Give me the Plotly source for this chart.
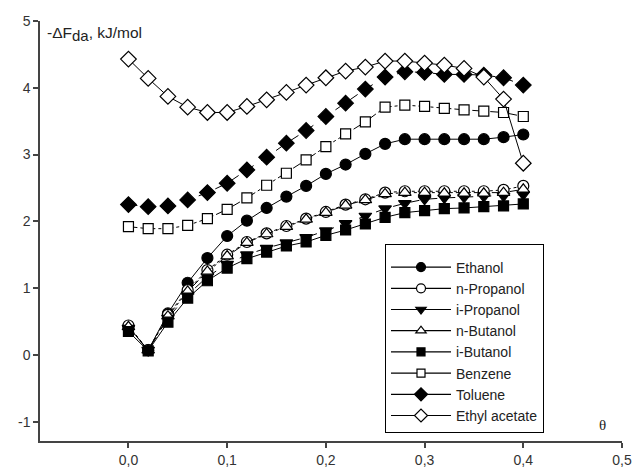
import plotly.graph_objects as go

theta = [0.00, 0.02, 0.04, 0.06, 0.08, 0.10, 0.12, 0.14, 0.16, 0.18, 0.20,
         0.22, 0.24, 0.26, 0.28, 0.30, 0.32, 0.34, 0.36, 0.38, 0.40]

ethanol = [0.42, 0.07, 0.62, 1.08, 1.45, 1.78, 2.01, 2.20, 2.37, 2.53, 2.71,
           2.85, 3.01, 3.16, 3.23, 3.23, 3.23, 3.23, 3.23, 3.26, 3.30]
n_propanol = [0.44, 0.07, 0.60, 0.97, 1.27, 1.50, 1.69, 1.82, 1.93, 2.04, 2.14,
              2.25, 2.33, 2.43, 2.45, 2.45, 2.45, 2.45, 2.45, 2.47, 2.53]
i_propanol = [0.40, 0.07, 0.55, 0.90, 1.17, 1.36, 1.50, 1.60, 1.68, 1.76, 1.86,
              1.97, 2.08, 2.19, 2.27, 2.33, 2.35, 2.36, 2.37, 2.38, 2.40]
n_butanol = [0.42, 0.07, 0.58, 0.95, 1.25, 1.48, 1.68, 1.81, 1.92, 2.03, 2.13,
             2.24, 2.32, 2.41, 2.43, 2.43, 2.42, 2.42, 2.42, 2.43, 2.48]
i_butanol = [0.35, 0.06, 0.49, 0.85, 1.11, 1.30, 1.44, 1.54, 1.63, 1.69, 1.79,
             1.87, 1.96, 2.06, 2.13, 2.16, 2.19, 2.20, 2.22, 2.23, 2.26]
benzene = [1.92, 1.89, 1.89, 1.94, 2.04, 2.18, 2.35, 2.54, 2.72, 2.92, 3.12,
           3.31, 3.49, 3.71, 3.74, 3.72, 3.69, 3.67, 3.65, 3.63, 3.57]
toluene = [2.25, 2.22, 2.23, 2.32, 2.43, 2.57, 2.77, 2.96, 3.17, 3.36, 3.57,
           3.77, 3.98, 4.16, 4.24, 4.23, 4.20, 4.20, 4.19, 4.15, 4.04]
ethyl_acetate = [4.43, 4.14, 3.87, 3.71, 3.63, 3.63, 3.72, 3.82, 3.93, 4.04, 4.15,
                 4.25, 4.31, 4.40, 4.40, 4.37, 4.34, 4.29, 4.16, 3.83, 2.87]

x_tickvals = [0.0, 0.1, 0.2, 0.3, 0.4, 0.5]
x_ticktext = ["0,0", "0,1", "0,2", "0,3", "0,4", "0,5"]
y_tickvals = [-1, 0, 1, 2, 3, 4, 5]
y_ticktext = ["-1", "0", "1", "2", "3", "4", "5"]

series = [
    ("Ethanol", ethanol, "circle", "black", "solid", 11),
    ("n-Propanol", n_propanol, "circle", "white", "dot", 11),
    ("i-Propanol", i_propanol, "triangle-down", "black", "dash", 11),
    ("n-Butanol", n_butanol, "triangle-up", "white", "dashdot", 11),
    ("i-Butanol", i_butanol, "square", "black", "solid", 10),
    ("Benzene", benzene, "square", "white", "dashdot", 10),
    ("Toluene", toluene, "diamond", "black", "dash", 12),
    ("Ethyl acetate", ethyl_acetate, "diamond", "white", "solid", 12),
]

FONT = "Liberation Sans, Arial, sans-serif"

fig = go.Figure()
for name, vals, sym, fill, dash, size in series:
    fig.add_trace(go.Scatter(
        x=theta, y=vals, name=name, mode="lines+markers", showlegend=False,
        line=dict(color="black", width=1, dash=dash),
        marker=dict(symbol=sym, size=size, color=fill,
                    line=dict(color="black", width=1.2)),
    ))
# legend entries (smaller symbols, as in the reference key)
for name, vals, sym, fill, dash, size in series:
    fig.add_trace(go.Scatter(
        x=[None], y=[None], name=name, mode="lines+markers", showlegend=True,
        line=dict(color="black", width=1.2),
        marker=dict(symbol=sym, size=size - 2, color=fill,
                    line=dict(color="black", width=1.2)),
    ))

axis_common = dict(showline=True, linecolor="#444", linewidth=1.5,
                   ticks="outside", ticklen=5, tickwidth=1.5, tickcolor="#444",
                   showgrid=False, zeroline=False, automargin=False,
                   tickfont=dict(family=FONT, size=14, color="#333"))

L, R, T, B = 40, 12, 21, 31
W, H = 634, 472
PW, PH = W - L - R, H - T - B

fig.update_layout(
    width=W, height=H,
    margin=dict(l=L, r=R, t=T, b=B),
    paper_bgcolor="white", plot_bgcolor="white",
    showlegend=True,
    xaxis=dict(range=[-0.0896, 0.5], tickvals=x_tickvals, ticktext=x_ticktext,
               **axis_common),
    yaxis=dict(range=[-1.29, 5.0], tickvals=y_tickvals, ticktext=y_ticktext,
               **axis_common),
    legend=dict(x=(385 - L) / PW, y=(H - B - 244) / PH, xanchor="left", yanchor="top",
                bordercolor="black", borderwidth=1, bgcolor="white",
                itemwidth=60,
                title=dict(text=" ", font=dict(size=5)),
                font=dict(family=FONT, size=14, color="#222")),
    annotations=[
        dict(text="-\u0394F<sub><span style='font-size:15px'>da</span></sub>, kJ/mol",
             xref="paper", yref="paper",
             x=(45 - L) / PW, y=(H - B - 22) / PH, xanchor="left", yanchor="top",
             showarrow=False,
             font=dict(family=FONT, size=15.5, color="#222")),
        dict(text="\u03b8", xref="paper", yref="paper",
             x=(602.7 - L) / PW, y=(H - B - 425) / PH, xanchor="center", yanchor="middle",
             showarrow=False,
             font=dict(family="Liberation Serif, Times New Roman, serif", size=15, color="#222")),
    ],
)

fig.write_html("out.html")
